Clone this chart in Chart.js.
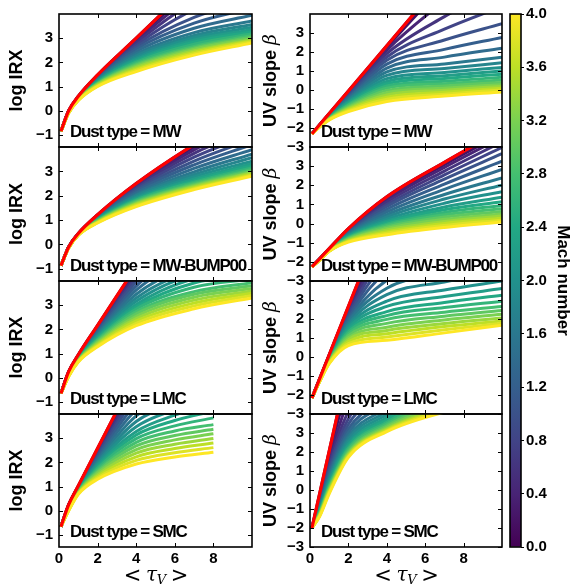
<!DOCTYPE html>
<html>
<head>
<meta charset="utf-8">
<script src="https://cdn.jsdelivr.net/npm/chart.js@4.4.1/dist/chart.umd.min.js"></script>
<style>
html, body { margin: 0; padding: 0; background: #ffffff; }
#wrap { position: relative; width: 572px; height: 584px; overflow: hidden; }
#wrap canvas { position: absolute; }
</style>
</head>
<body>
<div id="wrap"></div>
<script>
// optical depth samples
const TAU = [0.1, 0.5, 1, 2, 4, 7, 10];
// the SMC log IRX curves stop at tau_V = 8
const TAU_SMC_IRX = [0.1, 0.5, 1, 2, 4, 6, 8];
// one curve per Mach number
const MACH = [0.0, 0.2, 0.4, 0.6, 0.8, 1.0, 1.2, 1.4, 1.6, 1.8, 2.0, 2.2, 2.4, 2.6, 2.8, 3.0, 3.2, 3.4, 3.6, 3.8, 4.0];
const DUST_TYPES = ['MW', 'MW-BUMP00', 'LMC', 'SMC'];
const X_TICKS = [0, 2, 4, 6, 8];
const IRX_TICKS = [-1, 0, 1, 2, 3];
const BETA_TICKS = [-3, -2, -1, 0, 1, 2, 3];
const CBAR_TICKS = [0.0, 0.4, 0.8, 1.2, 1.6, 2.0, 2.4, 2.8, 3.2, 3.6, 4.0];

// red reference curves
const redIrxMW   = [-0.85, 0.0, 0.6, 1.48, 3.0, 5.3, 7.6];
const redIrxBump = [-0.87, -0.1, 0.45, 1.22, 2.5, 4.1, 5.5];
const redIrxLMC  = [-0.65, 0.25, 0.95, 2.17, 4.6, 8.3, 12.0];
const redIrxSMC  = [-0.66, 0.25, 1.03, 2.58, 5.68, 8.78, 11.88];
const redBetaMW   = [-2.31, -1.83, -1.24, -0.05, 2.33, 5.9, 9.47];
const redBetaBump = [-2.26, -1.84, -1.31, -0.26, 1.4, 3.2, 4.9];
const redBetaLMC  = [-2.16, -1.15, 0.12, 2.66, 7.74, 15.4, 23.0];
const redBetaSMC  = [-2.0, -0.2, 2.05, 6.55, 15.55, 29.0, 42.5];

// log IRX, one row per Mach number
const irxMW = [
  [-0.85, 0.0, 0.6, 1.48, 3.0, 5.3, 7.6],
  [-0.85, -0.01, 0.59, 1.46, 2.96, 5.09, 6.93],
  [-0.85, -0.01, 0.58, 1.43, 2.89, 4.82, 6.26],
  [-0.85, -0.02, 0.57, 1.41, 2.81, 4.52, 5.58],
  [-0.85, -0.02, 0.56, 1.38, 2.72, 4.19, 5.06],
  [-0.85, -0.03, 0.56, 1.36, 2.64, 3.86, 4.6],
  [-0.85, -0.03, 0.55, 1.34, 2.55, 3.62, 4.24],
  [-0.85, -0.04, 0.54, 1.31, 2.45, 3.41, 3.95],
  [-0.85, -0.04, 0.53, 1.29, 2.35, 3.23, 3.71],
  [-0.85, -0.05, 0.52, 1.26, 2.27, 3.11, 3.57],
  [-0.85, -0.05, 0.51, 1.24, 2.19, 3.02, 3.45],
  [-0.85, -0.06, 0.5, 1.22, 2.12, 2.93, 3.35],
  [-0.85, -0.06, 0.49, 1.19, 2.06, 2.84, 3.27],
  [-0.85, -0.07, 0.48, 1.17, 2.01, 2.75, 3.18],
  [-0.85, -0.07, 0.47, 1.14, 1.95, 2.66, 3.11],
  [-0.85, -0.08, 0.47, 1.12, 1.9, 2.6, 3.05],
  [-0.85, -0.08, 0.46, 1.1, 1.84, 2.54, 2.99],
  [-0.85, -0.09, 0.45, 1.07, 1.79, 2.48, 2.94],
  [-0.85, -0.09, 0.44, 1.05, 1.73, 2.42, 2.9],
  [-0.85, -0.1, 0.43, 1.02, 1.68, 2.36, 2.85],
  [-0.85, -0.1, 0.42, 1.0, 1.62, 2.3, 2.8]
];
const irxBump = [
  [-0.87, -0.1, 0.45, 1.22, 2.5, 4.1, 5.5],
  [-0.87, -0.1, 0.45, 1.2, 2.47, 4.0, 5.26],
  [-0.87, -0.11, 0.44, 1.19, 2.42, 3.88, 5.01],
  [-0.87, -0.11, 0.44, 1.17, 2.37, 3.74, 4.76],
  [-0.87, -0.11, 0.44, 1.15, 2.31, 3.58, 4.53],
  [-0.87, -0.11, 0.43, 1.14, 2.25, 3.42, 4.31],
  [-0.87, -0.12, 0.43, 1.12, 2.19, 3.27, 4.1],
  [-0.87, -0.12, 0.43, 1.1, 2.12, 3.12, 3.89],
  [-0.87, -0.12, 0.42, 1.08, 2.05, 2.98, 3.71],
  [-0.87, -0.12, 0.42, 1.07, 2.0, 2.87, 3.56],
  [-0.87, -0.13, 0.42, 1.05, 1.94, 2.78, 3.42],
  [-0.87, -0.13, 0.41, 1.03, 1.89, 2.69, 3.31],
  [-0.87, -0.13, 0.41, 1.02, 1.85, 2.62, 3.23],
  [-0.87, -0.13, 0.4, 1.0, 1.82, 2.56, 3.15],
  [-0.87, -0.14, 0.4, 0.98, 1.78, 2.5, 3.08],
  [-0.87, -0.14, 0.4, 0.97, 1.74, 2.45, 3.03],
  [-0.87, -0.14, 0.39, 0.95, 1.7, 2.41, 2.97],
  [-0.87, -0.14, 0.39, 0.93, 1.66, 2.37, 2.93],
  [-0.87, -0.15, 0.39, 0.91, 1.63, 2.33, 2.88],
  [-0.87, -0.15, 0.38, 0.9, 1.59, 2.29, 2.84],
  [-0.87, -0.15, 0.38, 0.88, 1.55, 2.25, 2.8]
];
const irxLMC = [
  [-0.65, 0.25, 0.95, 2.17, 4.6, 8.3, 12.0],
  [-0.65, 0.24, 0.94, 2.13, 4.53, 8.2, 11.64],
  [-0.65, 0.23, 0.92, 2.08, 4.4, 7.85, 10.28],
  [-0.65, 0.22, 0.91, 2.04, 4.26, 7.25, 8.93],
  [-0.65, 0.21, 0.89, 1.99, 4.11, 6.6, 7.86],
  [-0.65, 0.2, 0.88, 1.95, 3.96, 5.94, 6.94],
  [-0.65, 0.19, 0.86, 1.9, 3.79, 5.47, 6.21],
  [-0.65, 0.18, 0.85, 1.86, 3.62, 5.05, 5.63],
  [-0.65, 0.17, 0.83, 1.81, 3.45, 4.7, 5.14],
  [-0.65, 0.16, 0.82, 1.77, 3.3, 4.46, 4.85],
  [-0.65, 0.15, 0.8, 1.73, 3.16, 4.28, 4.61],
  [-0.65, 0.14, 0.79, 1.68, 3.03, 4.1, 4.42],
  [-0.65, 0.13, 0.77, 1.64, 2.93, 3.92, 4.24],
  [-0.65, 0.12, 0.76, 1.59, 2.84, 3.74, 4.08],
  [-0.65, 0.11, 0.74, 1.55, 2.74, 3.56, 3.93],
  [-0.65, 0.1, 0.73, 1.5, 2.64, 3.45, 3.8],
  [-0.65, 0.09, 0.71, 1.46, 2.54, 3.33, 3.69],
  [-0.65, 0.08, 0.7, 1.41, 2.44, 3.21, 3.59],
  [-0.65, 0.07, 0.68, 1.37, 2.35, 3.09, 3.49],
  [-0.65, 0.06, 0.67, 1.32, 2.25, 2.97, 3.4],
  [-0.65, 0.05, 0.65, 1.28, 2.15, 2.85, 3.3]
];
// values at TAU_SMC_IRX
const irxSMC = [
  [-0.66, 0.25, 1.03, 2.58, 5.68, 8.78, 11.88],
  [-0.66, 0.24, 1.01, 2.52, 5.57, 8.5, 11.22],
  [-0.66, 0.23, 1.0, 2.45, 5.38, 7.98, 10.37],
  [-0.66, 0.21, 0.98, 2.39, 5.16, 7.39, 9.42],
  [-0.66, 0.2, 0.96, 2.32, 4.93, 6.76, 8.38],
  [-0.66, 0.19, 0.94, 2.26, 4.71, 6.13, 7.34],
  [-0.66, 0.18, 0.93, 2.2, 4.44, 5.61, 6.58],
  [-0.66, 0.16, 0.91, 2.13, 4.18, 5.15, 5.92],
  [-0.66, 0.15, 0.89, 2.07, 3.92, 4.74, 5.35],
  [-0.66, 0.14, 0.87, 2.0, 3.69, 4.43, 4.97],
  [-0.66, 0.13, 0.86, 1.94, 3.47, 4.18, 4.69],
  [-0.66, 0.11, 0.84, 1.88, 3.28, 3.95, 4.41],
  [-0.66, 0.1, 0.82, 1.81, 3.13, 3.73, 4.12],
  [-0.66, 0.09, 0.8, 1.75, 2.98, 3.51, 3.84],
  [-0.66, 0.08, 0.79, 1.68, 2.83, 3.3, 3.56],
  [-0.66, 0.06, 0.77, 1.62, 2.68, 3.11, 3.37],
  [-0.66, 0.05, 0.75, 1.56, 2.53, 2.93, 3.18],
  [-0.66, 0.04, 0.73, 1.49, 2.38, 2.75, 2.99],
  [-0.66, 0.03, 0.72, 1.43, 2.23, 2.57, 2.8],
  [-0.66, 0.01, 0.7, 1.36, 2.08, 2.4, 2.61],
  [-0.66, 0.0, 0.68, 1.3, 1.93, 2.22, 2.42]
];

// UV slope beta, one row per Mach number
const betaMW = [
  [-2.31, -1.83, -1.24, -0.05, 2.33, 5.9, 9.47],
  [-2.31, -1.84, -1.26, -0.1, 2.24, 5.48, 8.13],
  [-2.31, -1.84, -1.27, -0.16, 2.1, 4.68, 6.79],
  [-2.31, -1.85, -1.29, -0.21, 1.92, 3.86, 5.45],
  [-2.31, -1.85, -1.31, -0.27, 1.74, 3.2, 4.4],
  [-2.31, -1.86, -1.33, -0.32, 1.57, 2.63, 3.49],
  [-2.31, -1.87, -1.34, -0.38, 1.36, 2.14, 2.77],
  [-2.31, -1.87, -1.36, -0.43, 1.15, 1.73, 2.2],
  [-2.31, -1.88, -1.38, -0.49, 0.95, 1.37, 1.72],
  [-2.31, -1.88, -1.39, -0.54, 0.77, 1.13, 1.43],
  [-2.31, -1.89, -1.41, -0.6, 0.6, 0.92, 1.19],
  [-2.31, -1.9, -1.43, -0.65, 0.45, 0.75, 1.0],
  [-2.31, -1.9, -1.44, -0.7, 0.33, 0.61, 0.83],
  [-2.31, -1.91, -1.46, -0.76, 0.21, 0.46, 0.67],
  [-2.31, -1.91, -1.48, -0.81, 0.1, 0.33, 0.52],
  [-2.31, -1.92, -1.5, -0.87, -0.02, 0.21, 0.4],
  [-2.31, -1.93, -1.51, -0.92, -0.14, 0.09, 0.28],
  [-2.31, -1.93, -1.53, -0.98, -0.26, -0.01, 0.19],
  [-2.31, -1.94, -1.55, -1.03, -0.38, -0.12, 0.09],
  [-2.31, -1.94, -1.56, -1.09, -0.49, -0.22, 0.0],
  [-2.31, -1.95, -1.58, -1.14, -0.61, -0.32, -0.1]
];
const betaBump = [
  [-2.26, -1.84, -1.31, -0.26, 1.4, 3.2, 4.9],
  [-2.26, -1.84, -1.32, -0.3, 1.34, 3.08, 4.71],
  [-2.26, -1.85, -1.32, -0.33, 1.24, 2.93, 4.51],
  [-2.26, -1.85, -1.33, -0.37, 1.12, 2.74, 4.27],
  [-2.26, -1.86, -1.34, -0.4, 1.0, 2.54, 3.98],
  [-2.26, -1.86, -1.35, -0.44, 0.89, 2.32, 3.65],
  [-2.26, -1.86, -1.35, -0.47, 0.75, 2.06, 3.26],
  [-2.26, -1.87, -1.36, -0.51, 0.61, 1.79, 2.83],
  [-2.26, -1.87, -1.37, -0.54, 0.47, 1.52, 2.39],
  [-2.26, -1.88, -1.37, -0.58, 0.35, 1.28, 2.01],
  [-2.26, -1.88, -1.38, -0.62, 0.23, 1.06, 1.67],
  [-2.26, -1.88, -1.39, -0.65, 0.13, 0.87, 1.38],
  [-2.26, -1.89, -1.39, -0.69, 0.05, 0.72, 1.14],
  [-2.26, -1.89, -1.4, -0.72, -0.03, 0.58, 0.95],
  [-2.26, -1.9, -1.41, -0.76, -0.1, 0.46, 0.78],
  [-2.26, -1.9, -1.42, -0.79, -0.18, 0.34, 0.63],
  [-2.26, -1.9, -1.42, -0.83, -0.26, 0.22, 0.5],
  [-2.26, -1.91, -1.43, -0.86, -0.34, 0.11, 0.39],
  [-2.26, -1.91, -1.44, -0.9, -0.42, 0.01, 0.28],
  [-2.26, -1.92, -1.44, -0.93, -0.5, -0.1, 0.18],
  [-2.26, -1.92, -1.45, -0.97, -0.58, -0.2, 0.08]
];
const betaLMC = [
  [-2.16, -1.15, 0.12, 2.66, 7.74, 15.4, 23.0],
  [-2.16, -1.16, 0.1, 2.56, 7.19, 13.0, 20.0],
  [-2.16, -1.17, 0.07, 2.45, 6.64, 10.88, 17.0],
  [-2.16, -1.17, 0.05, 2.35, 6.09, 9.18, 14.0],
  [-2.16, -1.18, 0.03, 2.25, 5.55, 7.77, 11.7],
  [-2.16, -1.19, 0.0, 2.15, 5.0, 6.64, 7.95],
  [-2.16, -1.2, -0.02, 2.04, 4.52, 5.79, 6.81],
  [-2.16, -1.2, -0.04, 1.94, 4.04, 5.09, 5.93],
  [-2.16, -1.21, -0.07, 1.84, 3.62, 4.45, 5.11],
  [-2.16, -1.22, -0.09, 1.73, 3.28, 3.95, 4.49],
  [-2.16, -1.23, -0.12, 1.63, 2.94, 3.53, 4.0],
  [-2.16, -1.23, -0.14, 1.53, 2.66, 3.18, 3.6],
  [-2.16, -1.24, -0.16, 1.42, 2.39, 2.87, 3.25],
  [-2.16, -1.25, -0.19, 1.32, 2.18, 2.6, 2.94],
  [-2.16, -1.26, -0.21, 1.22, 1.98, 2.36, 2.66],
  [-2.16, -1.26, -0.23, 1.12, 1.77, 2.15, 2.45],
  [-2.16, -1.27, -0.26, 1.01, 1.57, 1.95, 2.25],
  [-2.16, -1.28, -0.28, 0.91, 1.4, 1.76, 2.05],
  [-2.16, -1.29, -0.3, 0.81, 1.22, 1.6, 1.9],
  [-2.16, -1.29, -0.33, 0.7, 1.05, 1.43, 1.78],
  [-2.16, -1.3, -0.35, 0.6, 0.88, 1.27, 1.67]
];
const betaSMC = [
  [-2.0, -0.2, 2.05, 6.55, 15.55, 29.0, 42.5],
  [-2.0, -0.32, 1.83, 5.58, 10.56, 19.04, 27.42],
  [-2.0, -0.44, 1.6, 4.72, 8.06, 14.06, 19.88],
  [-2.0, -0.55, 1.4, 4.14, 6.81, 11.57, 16.11],
  [-2.0, -0.64, 1.22, 3.75, 5.94, 9.83, 13.47],
  [-2.0, -0.73, 1.06, 3.46, 5.32, 8.58, 11.59],
  [-2.0, -0.8, 0.93, 3.22, 4.88, 7.71, 10.27],
  [-2.0, -0.87, 0.79, 3.02, 4.57, 7.09, 9.32],
  [-2.0, -0.93, 0.68, 2.83, 4.32, 6.59, 8.57],
  [-2.0, -0.99, 0.57, 2.69, 4.13, 6.22, 8.0],
  [-2.0, -1.04, 0.48, 2.54, 3.97, 5.89, 7.51],
  [-2.0, -1.09, 0.39, 2.4, 3.82, 5.59, 7.06],
  [-2.0, -1.14, 0.3, 2.3, 3.69, 5.35, 6.69],
  [-2.0, -1.17, 0.23, 2.2, 3.57, 5.1, 6.31],
  [-2.0, -1.21, 0.16, 2.11, 3.47, 4.9, 6.01],
  [-2.0, -1.24, 0.09, 2.01, 3.38, 4.72, 5.74],
  [-2.0, -1.28, 0.03, 1.94, 3.3, 4.55, 5.48],
  [-2.0, -1.31, -0.03, 1.87, 3.22, 4.4, 5.25],
  [-2.0, -1.34, -0.09, 1.82, 3.17, 4.3, 5.1],
  [-2.0, -1.37, -0.14, 1.77, 3.12, 4.2, 4.95],
  [-2.0, -1.4, -0.2, 1.72, 3.07, 4.1, 4.8]
];

// ---- styling ----
const FONT = '"Liberation Sans", Arial, Helvetica, sans-serif';
const VIRIDIS = ['#440154', '#482475', '#414487', '#355f8d', '#2a788e', '#21918c',
                 '#22a884', '#44bf70', '#7ad151', '#bddf26', '#fde725'];

function hexToRgb(h) {
  return [parseInt(h.slice(1, 3), 16), parseInt(h.slice(3, 5), 16), parseInt(h.slice(5, 7), 16)];
}
function viridis(t) {
  t = Math.max(0, Math.min(1, t));
  const p = t * 10;
  const i = Math.min(9, Math.floor(p));
  const f = p - i;
  const a = hexToRgb(VIRIDIS[i]), b = hexToRgb(VIRIDIS[i + 1]);
  const c = a.map((v, k) => Math.round(v + (b[k] - v) * f));
  return 'rgb(' + c.join(',') + ')';
}
function fmtTick(v) {
  return v < 0 ? '\u2212' + Math.abs(v) : String(v);
}
// keep tick labels from pushing the plot area around
function noScalePadding(s) {
  s.paddingTop = 0; s.paddingBottom = 0; s.paddingLeft = 0; s.paddingRight = 0;
}

const ROW_TOP = [14, 147, 281, 414];
const ROW_BOTTOM = [147, 281, 414, 547];
const COLS = [
  { canvasLeft: 0, left: 59, right: 252 },
  { canvasLeft: 255, left: 310, right: 502 }
];

const wrap = document.getElementById('wrap');

// frame, inward ticks, panel label and axis titles
const panelDecor = {
  id: 'panelDecor',
  afterDraw(chart, args, opts) {
    const { ctx, chartArea: a, scales } = chart;
    ctx.save();
    ctx.strokeStyle = '#000';
    ctx.lineWidth = 1;
    ctx.beginPath();
    X_TICKS.forEach(v => {
      if (v <= 0) return;
      const px = Math.round(scales.x.getPixelForValue(v)) + 0.5;
      ctx.moveTo(px, a.bottom); ctx.lineTo(px, a.bottom - 4);
      ctx.moveTo(px, a.top); ctx.lineTo(px, a.top + 4);
    });
    opts.yTicks.forEach(v => {
      const py = Math.round(scales.y.getPixelForValue(v)) + 0.5;
      ctx.moveTo(a.left, py); ctx.lineTo(a.left + 4, py);
      ctx.moveTo(a.right, py); ctx.lineTo(a.right - 4, py);
    });
    ctx.stroke();
    ctx.lineWidth = 1.6;
    ctx.strokeRect(a.left, a.top, a.right - a.left, a.bottom - a.top);

    // "Dust type = ..."
    ctx.fillStyle = '#000';
    ctx.font = 'bold 17px ' + FONT;
    ctx.letterSpacing = '-1.2px';
    ctx.textAlign = 'left';
    ctx.textBaseline = 'alphabetic';
    ctx.fillText('Dust type = ' + opts.dust, a.left + 11, a.bottom - 10);
    ctx.letterSpacing = '0px';

    // y title
    const yMid = (a.top + a.bottom) / 2;
    ctx.save();
    ctx.translate(opts.titleX, yMid);
    ctx.rotate(-Math.PI / 2);
    ctx.textBaseline = 'middle';
    ctx.textAlign = 'left';
    if (opts.beta) {
      ctx.font = 'bold 18px ' + FONT;
      const w1 = ctx.measureText('UV slope ').width;
      ctx.font = 'italic 19px "DejaVu Serif", serif';
      const w2 = ctx.measureText('\u03b2').width;
      const x0 = -(w1 + w2) / 2;
      ctx.font = 'bold 18px ' + FONT;
      ctx.fillText('UV slope ', x0, 0);
      ctx.font = 'italic 19px "DejaVu Serif", serif';
      ctx.fillText('\u03b2', x0 + w1, 0);
    } else {
      ctx.font = 'bold 18px ' + FONT;
      ctx.textAlign = 'center';
      ctx.fillText('log IRX', 0, 0);
    }
    ctx.restore();

    // x title on the bottom row: < tau_V >
    if (opts.xTitle) {
      const cx = (a.left + a.right) / 2;
      const cy = opts.xTitleY;
      ctx.textAlign = 'center';
      ctx.textBaseline = 'middle';
      ctx.font = '21px "DejaVu Sans", sans-serif';
      ctx.fillText('<', cx - 23, cy);
      ctx.fillText('>', cx + 24, cy);
      ctx.font = 'italic 20px "DejaVu Serif", serif';
      ctx.fillText('\u03c4', cx - 4, cy - 1);
      ctx.font = 'italic 13px "DejaVu Serif", serif';
      ctx.fillText('V', cx + 6, cy + 4);
    }
    ctx.restore();
  }
};

function makePanel(col, row, tau, lines, red, yMin, yMax, yTicks, beta) {
  const c = COLS[col];
  const bottomRow = row === 3;
  const h = ROW_BOTTOM[row] - ROW_TOP[row];
  const canvas = document.createElement('canvas');
  const cw = c.right - c.canvasLeft + 10;
  const ch = h + 10 + (bottomRow ? 37 : 6);
  canvas.width = cw; canvas.height = ch;
  canvas.style.left = c.canvasLeft + 'px';
  canvas.style.top = (ROW_TOP[row] - 10) + 'px';
  canvas.style.width = cw + 'px'; canvas.style.height = ch + 'px';
  wrap.appendChild(canvas);

  const datasets = [];
  datasets.push({
    data: tau.map((t, j) => ({ x: t, y: red[j] })),
    borderColor: '#ff0000',
    borderWidth: 3.2
  });
  // highest Mach first so it sits on top of the lower Mach curves
  for (let i = MACH.length - 1; i >= 0; i--) {
    datasets.push({
      data: tau.map((t, j) => ({ x: t, y: lines[i][j] })),
      borderColor: viridis(MACH[i] / 4),
      borderWidth: 3
    });
  }
  datasets.forEach(d => {
    d.pointRadius = 0;
    d.cubicInterpolationMode = 'monotone';
    d.clip = 0;
    d.fill = false;
  });

  const tickFont = { family: FONT, size: 15, weight: 'bold' };
  new Chart(canvas, {
    type: 'line',
    data: { datasets: datasets },
    options: {
      responsive: false,
      animation: false,
      devicePixelRatio: 1,
      layout: {
        autoPadding: false,
        padding: { top: 10, right: 10, bottom: bottomRow ? 0 : 6, left: 0 }
      },
      plugins: {
        legend: { display: false },
        tooltip: { enabled: false },
        panelDecor: {
          yTicks: yTicks,
          dust: DUST_TYPES[row],
          beta: beta,
          titleX: beta ? 271 - c.canvasLeft : 17,
          xTitle: bottomRow,
          xTitleY: 577 - (ROW_TOP[row] - 10)
        }
      },
      scales: {
        x: {
          type: 'linear',
          min: 0,
          max: 10,
          grid: { display: false, drawTicks: false },
          border: { display: false },
          afterBuildTicks: s => { s.ticks = X_TICKS.map(v => ({ value: v })); },
          afterFit: s => { s.height = bottomRow ? 37 : 0; noScalePadding(s); },
          ticks: { display: bottomRow, padding: 3, color: '#000', font: tickFont, maxRotation: 0, autoSkip: false }
        },
        y: {
          type: 'linear',
          min: yMin,
          max: yMax,
          grid: { display: false, drawTicks: false },
          border: { display: false },
          afterBuildTicks: s => { s.ticks = yTicks.map(v => ({ value: v })); },
          afterFit: s => { s.width = c.left - c.canvasLeft; noScalePadding(s); },
          ticks: { padding: 6, color: '#000', font: tickFont, autoSkip: false, callback: v => fmtTick(v) }
        }
      }
    },
    plugins: [panelDecor]
  });
}

makePanel(0, 0, TAU, irxMW, redIrxMW, -1.5, 4, IRX_TICKS, false);
makePanel(0, 1, TAU, irxBump, redIrxBump, -1.5, 4, IRX_TICKS, false);
makePanel(0, 2, TAU, irxLMC, redIrxLMC, -1.5, 4, IRX_TICKS, false);
makePanel(0, 3, TAU_SMC_IRX, irxSMC, redIrxSMC, -1.5, 4, IRX_TICKS, false);
makePanel(1, 0, TAU, betaMW, redBetaMW, -3, 4, BETA_TICKS, true);
makePanel(1, 1, TAU, betaBump, redBetaBump, -3, 4, BETA_TICKS, true);
makePanel(1, 2, TAU, betaLMC, redBetaLMC, -3, 4, BETA_TICKS, true);
makePanel(1, 3, TAU, betaSMC, redBetaSMC, -3, 4, BETA_TICKS, true);

// ---- colorbar ----
(function () {
  const canvas = document.createElement('canvas');
  const cw = 72, ch = 553;
  canvas.width = cw; canvas.height = ch;
  canvas.style.left = '500px'; canvas.style.top = '4px';
  canvas.style.width = cw + 'px'; canvas.style.height = ch + 'px';
  wrap.appendChild(canvas);

  const cbarDecor = {
    id: 'cbarDecor',
    afterDraw(chart) {
      const { ctx, chartArea: a } = chart;
      ctx.save();
      ctx.strokeStyle = '#000';
      ctx.lineWidth = 1.6;
      ctx.strokeRect(a.left, a.top, a.right - a.left, a.bottom - a.top);
      ctx.fillStyle = '#000';
      ctx.font = 'bold 17px ' + FONT;
      ctx.translate(63, (a.top + a.bottom) / 2);
      ctx.rotate(Math.PI / 2);
      ctx.textAlign = 'center';
      ctx.textBaseline = 'middle';
      ctx.fillText('Mach number', 0, 0);
      ctx.restore();
    }
  };

  new Chart(canvas, {
    type: 'bar',
    data: {
      labels: [''],
      datasets: [{
        data: [[0, 4]],
        borderWidth: 0,
        barPercentage: 1,
        categoryPercentage: 1,
        backgroundColor: ctx => {
          const chart = ctx.chart;
          const a = chart.chartArea;
          if (!a) return VIRIDIS[5];
          const g = chart.ctx.createLinearGradient(0, a.bottom, 0, a.top);
          VIRIDIS.forEach((col, i) => g.addColorStop(i / 10, col));
          return g;
        }
      }]
    },
    options: {
      responsive: false,
      animation: false,
      devicePixelRatio: 1,
      layout: { autoPadding: false, padding: { top: 10, right: 0, bottom: 10, left: 10 } },
      plugins: { legend: { display: false }, tooltip: { enabled: false } },
      scales: {
        x: { display: false },
        y: {
          position: 'right',
          min: 0,
          max: 4,
          afterBuildTicks: s => { s.ticks = CBAR_TICKS.map(v => ({ value: v })); },
          afterFit: s => { s.width = 51; noScalePadding(s); },
          grid: { drawOnChartArea: false, drawTicks: true, tickLength: 3, color: '#000' },
          border: { display: false },
          ticks: {
            padding: 2,
            color: '#000',
            font: { family: FONT, size: 15, weight: 'bold' },
            callback: v => v.toFixed(1)
          }
        }
      }
    },
    plugins: [cbarDecor]
  });
})();
</script>
</body>
</html>
